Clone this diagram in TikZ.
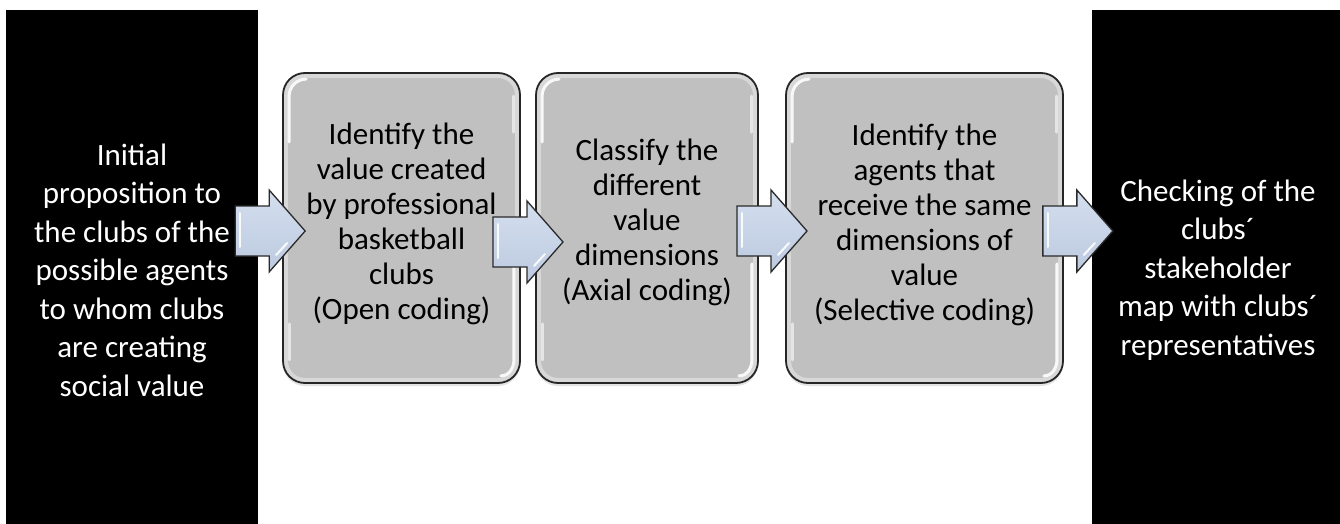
\documentclass[tikz,border=0pt]{standalone}
\usepackage{fontspec}
\setmainfont{Carlito}
\usetikzlibrary{calc,shadows}

\definecolor{boxgray}{HTML}{C0C0C0}
\definecolor{bandgray}{HTML}{D8D8D8}
\definecolor{edgegray}{HTML}{262626}
\definecolor{arrowtop}{HTML}{D4DEEE}
\definecolor{arrowbot}{HTML}{BCCAE0}
\definecolor{arrowedge}{HTML}{2A2A2A}

\tikzset{
  outerbox/.style={fill=black, draw=none, inner sep=0pt, minimum height=514pt},
  outertext/.style={font=\fontsize{31}{38.5}\selectfont, align=center, text=white, inner sep=0pt},
  stepbox/.style={draw=edgegray, line width=1.8pt, fill=bandgray, rounded corners=22pt,
    minimum height=310pt, inner sep=0pt,
    drop shadow={opacity=0.22, shadow xshift=0pt, shadow yshift=-3pt}},
  stepcore/.style={fill=boxgray, rounded corners=17pt},
  steptext/.style={font=\fontsize{31}{35}\selectfont, align=center, text=black, inner sep=0pt},
  gloss/.style={white, line width=3pt, line cap=round, opacity=0.9},
  arrowshape/.style={draw=arrowedge, line width=1.3pt, line join=miter,
    top color=arrowtop, bottom color=arrowbot},
  arrowgloss/.style={white, line width=2pt, line cap=round, opacity=0.9},
}

% block arrow centred in the gap between two nodes, at a given axis height
\newcommand\flowarrow[4]{%
  \coordinate (#1m) at ($(#2.east)!0.5!(#3.west)$);
  \coordinate (#1y) at (0,#4);
  \coordinate (#1) at (#1m |- #1y);
  \draw[arrowshape] ([shift={(-35,-25)}]#1) -- ([shift={(-1,-25)}]#1)
    -- ([shift={(-1,-41)}]#1) -- ([shift={(35,0)}]#1) -- ([shift={(-1,41)}]#1)
    -- ([shift={(-1,25)}]#1) -- ([shift={(-35,25)}]#1) -- cycle;
  \draw[arrowgloss] ([shift={(-30,-18)}]#1) -- ([shift={(-30,16)}]#1);
  \draw[arrowgloss] ([shift={(6,24)}]#1) -- ([shift={(17,12)}]#1);
}

% inner face and highlights of a glossy step box
\newcommand\stepface[1]{%
  \fill[stepcore] ([shift={(6,6)}]#1.north west) rectangle ([shift={(-6,-6)}]#1.south east);
  \draw[gloss] ([shift={(7,70)}]#1.north west) -- ([shift={(7,24)}]#1.north west)
    to[out=90,in=180] ([shift={(24,7)}]#1.north west);
  \draw[gloss] ([shift={(-7,-120)}]#1.south east) -- ([shift={(-7,-24)}]#1.south east)
    to[out=-90,in=0] ([shift={(-20,-8)}]#1.south east);
  \draw[gloss, opacity=0.6] ([shift={(7,-60)}]#1.south west) -- ([shift={(7,-24)}]#1.south west);
  \draw[gloss, opacity=0.6] ([shift={(-7,24)}]#1.north east) -- ([shift={(-7,60)}]#1.north east);
}

\begin{document}
\begin{tikzpicture}[x=1pt, y=-1pt]
  \useasboundingbox[fill=white] (0,0) rectangle (1340,524);

  % first and last stages
  \node[outerbox, minimum width=252pt] (start) at (132,267) {};
  \node[outertext] (starttext) at (132,270)
    {Initial\\proposition to\\the clubs of the\\possible agents\\to whom clubs\\are creating\\social value};
  \node[outerbox, minimum width=248pt] (finish) at (1216,267) {};
  \node[outertext] (finishtext) at (1218,270)
    {Checking of the\\clubs´\\stakeholder\\map with clubs´\\representatives};

  % coding steps
  \node[stepbox, minimum width=237pt] (open) at (401.5,228) {};
  \node[stepbox, minimum width=222pt] (axial) at (647,228) {};
  \node[stepbox, minimum width=277pt] (selective) at (924.5,228) {};
  \stepface{open}
  \stepface{axial}
  \stepface{selective}

  \node[steptext] (opentext) at ([yshift=4pt]open.center)
    {Identify the\\value created\\by professional\\basketball\\clubs\\(Open coding)};
  \node[steptext] (axialtext) at ([yshift=6pt]axial.center)
    {Classify the\\different\\value\\dimensions\\(Axial coding)};
  \node[steptext] (selectivetext) at ([yshift=3pt]selective.center)
    {Identify the\\agents that\\receive the same\\dimensions of\\value\\(Selective coding)};

  % flow arrows
  \flowarrow{a1}{start}{open}{231}
  \flowarrow{a2}{open}{axial}{242}
  \flowarrow{a3}{axial}{selective}{231}
  \flowarrow{a4}{selective}{finish}{231}
\end{tikzpicture}
\end{document}
